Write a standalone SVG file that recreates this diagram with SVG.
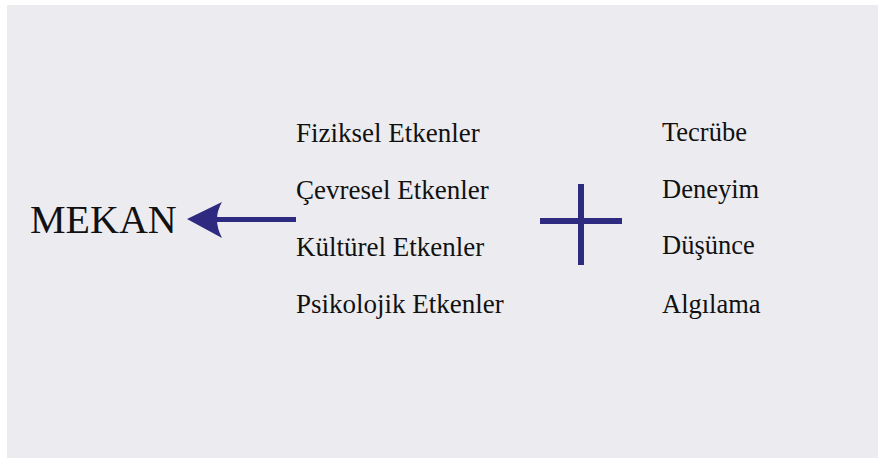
<svg xmlns="http://www.w3.org/2000/svg" width="881" height="460" viewBox="0 0 881 460">
<style>
.t{font-family:"Liberation Serif","Times New Roman",serif;fill:#111;}
.l{font-size:27px;}
.r{font-size:26.5px;}
.big{font-size:40px;}
.c{stroke:#2e2a7f;fill:none;}
</style>
<rect width="881" height="460" fill="#ffffff"/>
<rect x="7" y="5" width="871" height="453" fill="#ececf0"/>
<g id="mekan"><text class="t big" x="30" y="233">MEKAN</text></g>
<g id="etkenler">
<text class="t l" x="296" y="142">Fiziksel Etkenler</text>
<text class="t l" x="296" y="199">Çevresel Etkenler</text>
<text class="t l" x="296" y="256">Kültürel Etkenler</text>
<text class="t l" x="296" y="313">Psikolojik Etkenler</text>
</g>
<g id="deneyim">
<text class="t r" x="662" y="141">Tecrübe</text>
<text class="t r" x="662" y="198">Deneyim</text>
<text class="t r" x="662" y="254">Düşünce</text>
<text class="t r" x="662" y="313">Algılama</text>
</g>
<g id="connectors">
<line class="c" x1="296" y1="219.5" x2="215" y2="219.5" stroke-width="5"/>
<path d="M187,219 L222,202 Q212,219 222,238 Z" fill="#2e2a7f"/>
</g>
<g id="plus">
<line class="c" x1="581" y1="184" x2="581" y2="265" stroke-width="6"/>
<line class="c" x1="540" y1="221" x2="622" y2="221" stroke-width="6"/>
</g>
</svg>
